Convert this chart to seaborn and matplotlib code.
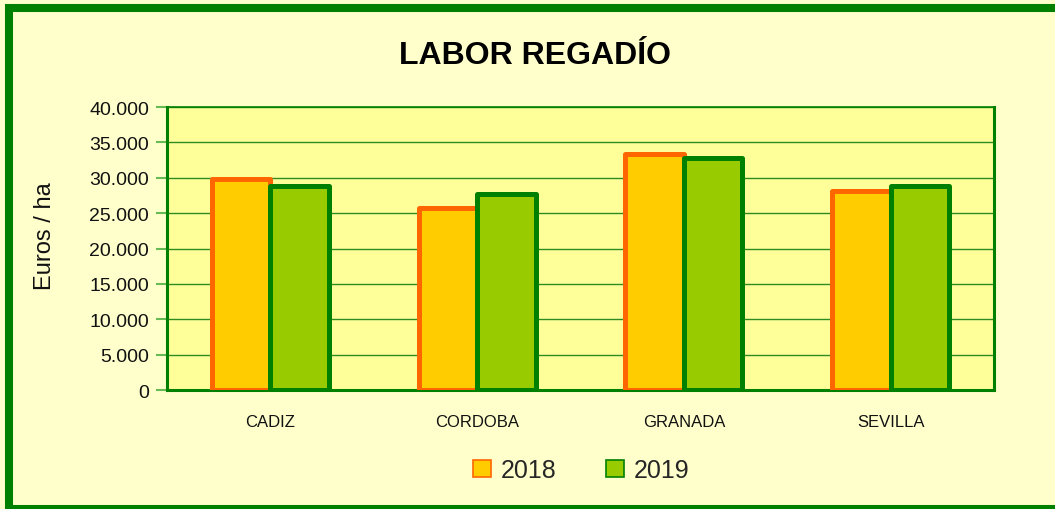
import matplotlib
matplotlib.use("Agg")
import matplotlib.pyplot as plt
import seaborn as sns
import pandas as pd
from matplotlib.patches import Patch, Rectangle
from matplotlib.ticker import FuncFormatter

provincias = ["CADIZ", "CORDOBA", "GRANADA", "SEVILLA"]
anios = ["2018", "2019"]
valores_2018 = [29800, 25700, 33300, 28200]
valores_2019 = [28800, 27700, 32800, 28800]
y_ticks = [0, 5000, 10000, 15000, 20000, 25000, 30000, 35000, 40000]

fill_colors = {"2018": "#FFCC00", "2019": "#99CC00"}
edge_colors = {"2018": "#FF6600", "2019": "#008000"}

df = pd.DataFrame({
    "provincia": provincias * 2,
    "anio": ["2018"] * len(provincias) + ["2019"] * len(provincias),
    "valor": valores_2018 + valores_2019,
})

sns.set_theme(style="white")
plt.rcParams["font.family"] = ["Liberation Sans", "DejaVu Sans"]

fig = plt.figure(figsize=(10.55, 5.1), dpi=100, facecolor="#FFFFCC")
ax = fig.add_axes([0.1583, 0.2333, 0.7839, 0.5549])
ax.set_facecolor("#FFFF99")

sns.barplot(
    data=df, x="provincia", y="valor", hue="anio",
    palette=fill_colors, width=0.566, gap=0, ax=ax,
    legend=False, errorbar=None, saturation=1,
)

for cont, anio in zip(ax.containers, anios):
    for bar in cont:
        bar.set_edgecolor(edge_colors[anio])
        bar.set_linewidth(3.6)
        bar.set_joinstyle("round")
        bar.set_zorder(3)

ax.set_ylim(0, 40000)
ax.set_xlim(-0.5, len(provincias) - 0.5)
ax.set_yticks(y_ticks)
ax.yaxis.set_major_formatter(FuncFormatter(lambda v, p: f"{int(v):,}".replace(",", ".")))
ax.grid(axis="y", color="#2E8B22", linewidth=1, zorder=0)
ax.set_axisbelow(True)

for s in ax.spines.values():
    s.set_color("#008000")
    s.set_linewidth(2.2)
    s.set_visible(True)
ax.spines["top"].set_linewidth(1.2)

# category ticks at the boundaries
ax.set_xticks([i - 0.5 for i in range(len(provincias) + 1)], minor=True)
ax.set_xticks(range(len(provincias)))
ax.set_xticklabels(provincias, fontsize=12, color="#111111")
ax.tick_params(axis="x", which="major", length=0, pad=17)
ax.tick_params(axis="x", which="minor", length=8, width=1.5, color="#66BB55", direction="out")
ax.tick_params(axis="y", length=8, width=1.5, color="#66BB55", direction="out",
               labelsize=14, labelcolor="#111111", pad=5, left=True)

ax.set_xlabel("")
ax.set_ylabel("Euros / ha", fontsize=17, color="#111111", va="center")
ax.yaxis.set_label_coords(-0.147, 0.548)

fig.text(0.507, 1 - 56 / 510, "LABOR REGADÍO", ha="center", va="center",
         fontsize=23, fontweight="bold", color="#000000")

handles = [Patch(facecolor=fill_colors[a], edgecolor=edge_colors[a], linewidth=1.2, label=a)
           for a in anios]
fig.legend(handles=handles, loc="center", bbox_to_anchor=(0.551, 1 - 471 / 510), ncol=2,
           frameon=False, fontsize=18, handlelength=0.7, handleheight=0.7,
           handletextpad=0.4, columnspacing=2.0)

# outer green frame
fig.patches.append(Rectangle((9 / 1055, 0), 1.1, 501 / 510, transform=fig.transFigure,
                             fill=False, edgecolor="#008000", linewidth=5.8, zorder=0))

fig.savefig("out.png", dpi=100, facecolor=fig.get_facecolor())
